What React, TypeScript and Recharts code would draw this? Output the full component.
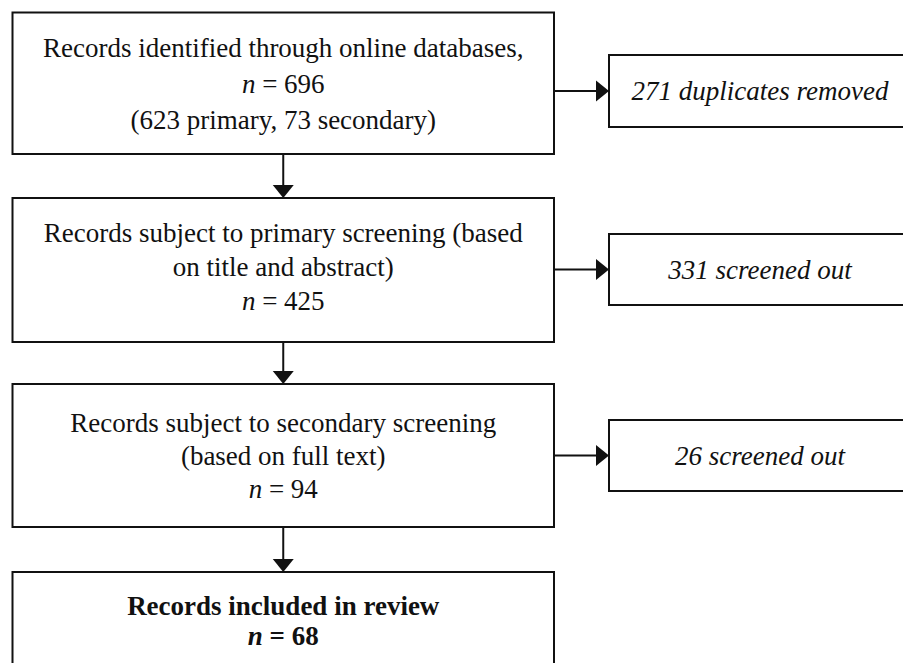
import { ComposedChart, XAxis, YAxis, ReferenceArea, ReferenceLine } from "recharts";

// flow stages (left column)
const stageTitles: string[][] = [
  ["Records identified through online databases,"],
  ["Records subject to primary screening (based", "on title and abstract)"],
  ["Records subject to secondary screening", "(based on full text)"],
  ["Records included in review"],
];
const stageCounts = [696, 425, 94, 68];
const stageNotes = ["(623 primary, 73 secondary)", "", "", ""];

// exclusions (right column)
const removedCounts = [271, 331, 26];
const removedReasons = ["duplicates removed", "screened out", "screened out"];

// layout, in canvas units (903 x 663)
const W = 903;
const H = 663;
const MAIN_X: [number, number] = [12.5, 554];
const MAIN_Y: [number, number][] = [
  [12.5, 154],
  [198, 342],
  [384, 527],
  [572, 671],
];
// text block placement inside the main boxes: shift of the block centre from box centre, line gap
const MAIN_TEXT_SHIFT = [10, 5.5, 9.5, 8.5];
const MAIN_TEXT_GAP = [36, 34, 33.3, 30];
const SIDE_X: [number, number] = [609, 911];
const SIDE_Y: [number, number][] = [
  [55, 127],
  [234, 305],
  [420, 491],
];

const FONT = "Liberation Serif, DejaVu Serif, serif";
const FONT_SIZE = 27;

type Seg = { t: string; italic?: boolean; bold?: boolean };

function BoxLabel(props: any) {
  const vb = props.viewBox || {};
  const lines: Seg[][] = props.lines || [];
  const shift: number = props.shift ?? 9;
  const gap: number = props.gap ?? 33;
  const cx = vb.x + vb.width / 2;
  const cy = vb.y + vb.height / 2;
  const first = cy + shift - ((lines.length - 1) * gap) / 2;
  return (
    <g>
      {lines.map((line, i) => (
        <text
          key={i}
          x={cx}
          y={first + i * gap}
          textAnchor="middle"
          style={{ fontFamily: FONT, fontSize: FONT_SIZE }}
          fill="#111"
        >
          {line.map((s, j) => (
            <tspan
              key={j}
              style={{
                fontStyle: s.italic ? "italic" : "normal",
                fontWeight: s.bold ? "bold" : "normal",
              }}
            >
              {s.t}
            </tspan>
          ))}
        </text>
      ))}
    </g>
  );
}

function Arrow(props: any) {
  const { x1, y1, x2, y2 } = props;
  const dx = x2 - x1;
  const dy = y2 - y1;
  const len = Math.sqrt(dx * dx + dy * dy) || 1;
  const ux = dx / len;
  const uy = dy / len;
  const head = 13;
  const half = 10.5;
  const bx = x2 - ux * head;
  const by = y2 - uy * head;
  const pts = [
    `${x2},${y2}`,
    `${bx - uy * half},${by + ux * half}`,
    `${bx + uy * half},${by - ux * half}`,
  ].join(" ");
  return (
    <g>
      <line x1={x1} y1={y1} x2={bx} y2={by} stroke="#111" strokeWidth={2} />
      <polygon points={pts} fill="#111" />
    </g>
  );
}

function stageLines(i: number): Seg[][] {
  const bold = i === stageTitles.length - 1;
  const countLine: Seg[] = [
    { t: "n", italic: true, bold },
    { t: ` = ${stageCounts[i]}`, bold },
  ];
  const out: Seg[][] = stageTitles[i].map((t) => [{ t, bold }]);
  out.push(countLine);
  if (stageNotes[i]) out.push([{ t: stageNotes[i], bold }]);
  return out;
}

export default function App() {
  const mainCx = (MAIN_X[0] + MAIN_X[1]) / 2;
  return (
    <div>
      <style>{`body{margin:0;background:#fff}`}</style>
      <ComposedChart
        width={W}
        height={H}
        data={[]}
        margin={{ top: 0, right: 0, bottom: 0, left: 0 }}
        style={{ fontFamily: FONT }}
      >
        <XAxis type="number" dataKey="x" domain={[0, W]} hide allowDataOverflow />
        <YAxis type="number" dataKey="y" domain={[0, H]} hide reversed allowDataOverflow />

        {stageTitles.map((_, i) => (
          <ReferenceArea
            key={`m${i}`}
            x1={MAIN_X[0]}
            x2={MAIN_X[1]}
            y1={MAIN_Y[i][0]}
            y2={MAIN_Y[i][1]}
            fill="#fff"
            fillOpacity={1}
            stroke="#111"
            strokeWidth={2}
            ifOverflow="visible"
            label={
              <BoxLabel
                lines={stageLines(i)}
                shift={MAIN_TEXT_SHIFT[i]}
                gap={MAIN_TEXT_GAP[i]}
              />
            }
          />
        ))}

        {removedCounts.map((c, i) => (
          <ReferenceArea
            key={`s${i}`}
            x1={SIDE_X[0]}
            x2={SIDE_X[1]}
            y1={SIDE_Y[i][0]}
            y2={SIDE_Y[i][1]}
            fill="#fff"
            fillOpacity={1}
            stroke="#111"
            strokeWidth={2}
            ifOverflow="visible"
            label={
              <BoxLabel
                lines={[[{ t: `${c} ${removedReasons[i]}`, italic: true }]]}
                shift={9}
              />
            }
          />
        ))}

        {stageTitles.slice(1).map((_, i) => (
          <ReferenceLine
            key={`d${i}`}
            segment={[
              { x: mainCx, y: MAIN_Y[i][1] },
              { x: mainCx, y: MAIN_Y[i + 1][0] },
            ]}
            ifOverflow="visible"
            shape={Arrow}
          />
        ))}

        {removedCounts.map((_, i) => {
          const y = (SIDE_Y[i][0] + SIDE_Y[i][1]) / 2;
          return (
            <ReferenceLine
              key={`r${i}`}
              segment={[
                { x: MAIN_X[1], y },
                { x: SIDE_X[0], y },
              ]}
              ifOverflow="visible"
              shape={Arrow}
            />
          );
        })}
      </ComposedChart>
    </div>
  );
}
